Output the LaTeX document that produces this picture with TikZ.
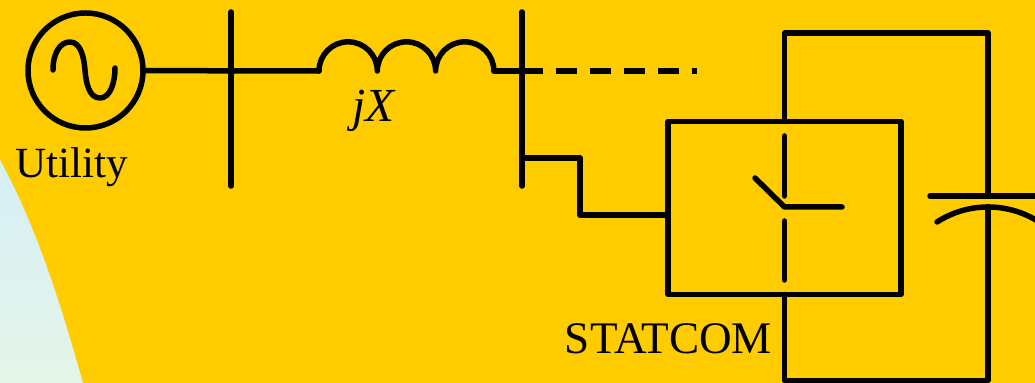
\documentclass[tikz,border=0pt]{standalone}
\usepackage{fontspec}
\setmainfont{Liberation Serif}
\definecolor{bgyellow}{HTML}{FFCC00}
\definecolor{skytop}{HTML}{D6EEF6}
\definecolor{skybot}{HTML}{E4F5E8}
\tikzset{
	wire/.style={line width=0.11cm, line cap=round, line join=round},
	label/.style={font=\fontsize{24.5}{28}\selectfont, inner sep=0pt},
}

\begin{document}
\begin{tikzpicture}
	%%%%% BACKGROUND %%%%%
	\useasboundingbox (0, 0) rectangle (20.7, 7.66);
	\fill[bgyellow] (0, 0) rectangle (20.7, 7.66);
	\shade[top color=skytop, bottom color=skybot] (0, 4.46) .. controls (0.75, 3.1) and (1.25, 1.45) .. (1.66, 0) -- (0, 0) -- cycle;
	
	%%%%% SOURCE %%%%%
	\node[circle, draw, wire, minimum size=2.3cm, inner sep=0pt, outer sep=0pt] (source) at (1.71, 6.25) {};
	\draw[wire] (1.06, 6.26) .. controls (1.06, 6.6) and (1.2, 6.82) .. (1.4, 6.82) .. controls (1.62, 6.82) and (1.68, 6.5) .. (1.7, 6.26) .. controls (1.72, 6.0) and (1.78, 5.7) .. (2.0, 5.7) .. controls (2.2, 5.7) and (2.3, 6.0) .. (2.3, 6.3);
	\node[label] (utility) at (1.43, 4.31) {Utility};
	
	%%%%% BUSES %%%%%
	\coordinate (busb) at (10.44, 6.24);
	\coordinate (inda) at (6.38, 6.24);
	\coordinate (indb) at (9.88, 6.24);
	\coordinate (dashend) at (13.94, 6.24);
	\draw[wire] (4.62, 7.42) -- (4.62, 3.94);
	\draw[wire] (10.44, 7.42) -- (10.44, 3.94);
	\draw[wire] (source) -- (inda);
	\draw[wire] (indb) -- (busb);
	\draw[wire] (inda) arc (180:0:0.583) arc (180:0:0.583) arc (180:0:0.583);
	\node[label, font=\fontsize{27}{30}\selectfont] (reactance) at (7.49, 5.44) {\textit{jX}};
	\draw[wire, line cap=butt, dash pattern=on 0.42cm off 0.26cm] (busb) -- (dashend);
	
	%%%%% STATCOM %%%%%
	\node[draw, wire, minimum width=4.66cm, minimum height=3.46cm, inner sep=0pt, outer sep=0pt] (statcom) at (15.69, 3.5) {};
	\node[label, font=\fontsize{25.7}{30}\selectfont] (statcomlabel) at (13.37, 0.89) {STATCOM};
	\coordinate (stub) at (10.44, 4.5);
	\draw[wire] (stub) -- (11.6, 4.5) -- (11.6, 3.36) -- (statcom.west |- 0, 3.36);
	
	\draw[wire] (15.69, 5.23) -- (15.69, 7) -- (19.76, 7) -- (19.76, 3.74);
	\draw[wire] (15.69, 1.77) -- (15.69, 0.05) -- (19.76, 0.05) -- (19.76, 3.5);
	
	\draw[wire] (15.69, 4.94) -- (15.69, 3.74);
	\draw[wire] (15.1, 4.1) -- (15.69, 3.52) -- (16.84, 3.52);
	\draw[wire] (15.69, 3.24) -- (15.69, 2.06);
	
	%%%%% CAPACITOR %%%%%
	\draw[wire] (18.6, 3.74) -- (20.8, 3.74);
	\draw[wire] (18.74, 3.22) arc (122.8:57.2:1.885);
\end{tikzpicture}
\end{document}
